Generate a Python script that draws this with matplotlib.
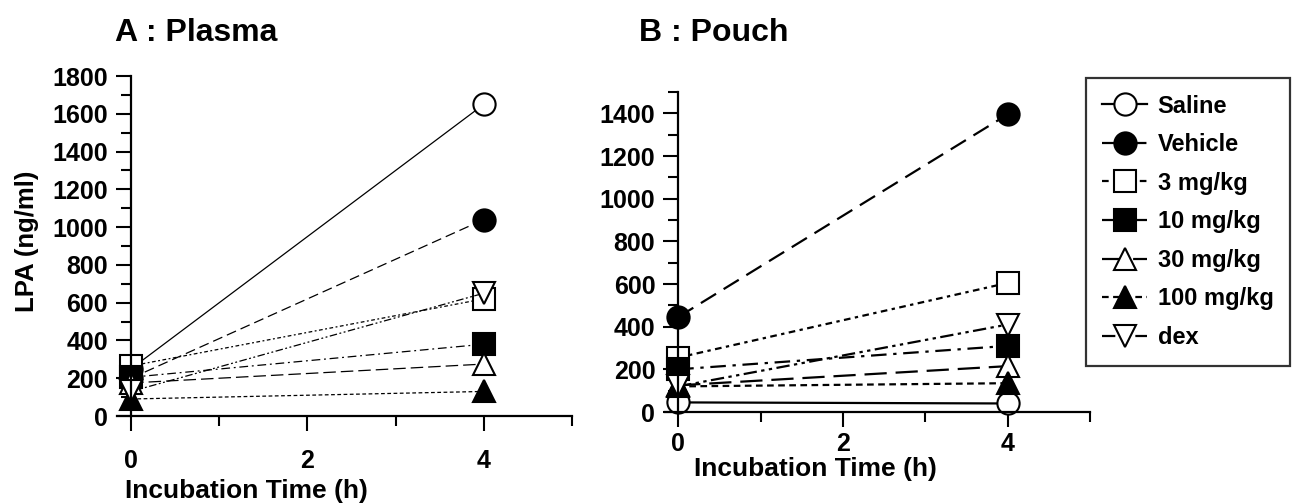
import numpy as np
import matplotlib
matplotlib.use("Agg")
import matplotlib.pyplot as plt
from matplotlib.ticker import MultipleLocator

plt.rcParams['font.family'] = ['Liberation Sans', 'DejaVu Sans']
plt.rcParams['font.weight'] = 'bold'

times = [0, 4]
groups = ["Saline", "Vehicle", "3 mg/kg", "10 mg/kg", "30 mg/kg", "100 mg/kg", "dex"]

# LPA (ng/ml) at 0 h and 4 h
plasma = {
    "Saline":    [250, 1650],
    "Vehicle":   [200, 1040],
    "3 mg/kg":   [265, 620],
    "10 mg/kg":  [205, 380],
    "30 mg/kg":  [175, 275],
    "100 mg/kg": [90, 130],
    "dex":       [130, 650],
}
pouch = {
    "Saline":    [45, 40],
    "Vehicle":   [445, 1395],
    "3 mg/kg":   [255, 605],
    "10 mg/kg":  [200, 310],
    "30 mg/kg":  [125, 215],
    "100 mg/kg": [120, 135],
    "dex":       [120, 410],
}

markers = {"Saline": "o", "Vehicle": "o", "3 mg/kg": "s", "10 mg/kg": "s",
           "30 mg/kg": "^", "100 mg/kg": "^", "dex": "v"}
filled = {"Saline": False, "Vehicle": True, "3 mg/kg": False, "10 mg/kg": True,
          "30 mg/kg": False, "100 mg/kg": True, "dex": False}
dashes = {"Saline": None, "Vehicle": (8, 4), "3 mg/kg": (3, 2, 1.5, 2),
          "10 mg/kg": (7, 3, 1.5, 3), "30 mg/kg": (10, 4), "100 mg/kg": (3, 2),
          "dex": (6, 2, 1.5, 2, 1.5, 2)}

W, H = 1292, 504
fig = plt.figure(figsize=(W / 100, H / 100), dpi=100)


def px_axes(left, right, top, bottom):
    return fig.add_axes([left / W, 1 - bottom / H, (right - left) / W, (bottom - top) / H])


ax1 = px_axes(117, 572, 76, 416)
ax2 = px_axes(665, 1090, 92, 412)


def draw(ax, data, lw, ms):
    handles = []
    for g in groups:
        ls = '-' if dashes[g] is None else (0, dashes[g])
        h, = ax.plot(times, data[g], color='black', lw=lw, linestyle=ls,
                     marker=markers[g], ms=ms, mew=1.5, mec='black',
                     mfc='black' if filled[g] else 'white', clip_on=False)
        handles.append(h)
    return handles


draw(ax1, plasma, 0.9, 16)
handles = draw(ax2, pouch, 1.6, 16)

for ax, ymax, major_top in [(ax1, 1800, 1800), (ax2, 1500, 1400)]:
    ax.set_xlim(-0.16, 5)
    ax.set_ylim(0, ymax)
    ax.spines['top'].set_visible(False)
    ax.spines['right'].set_visible(False)
    ax.spines['left'].set_position(('data', 0))
    ax.spines['left'].set_linewidth(1.6)
    ax.spines['bottom'].set_linewidth(1.6)
    ax.set_xticks([0, 2, 4])
    ax.xaxis.set_minor_locator(MultipleLocator(1))
    ax.set_yticks(np.arange(0, major_top + 1, 200))
    ax.yaxis.set_minor_locator(MultipleLocator(100))
    ax.tick_params(which='major', length=10.5, width=1.5, labelsize=18)
    ax.tick_params(which='minor', length=7, width=1.5)
    ax.tick_params(axis='y', pad=6)

ax1.tick_params(axis='x', pad=13)
ax2.tick_params(axis='x', pad=4)

ax1.text(0.284, -0.222, "Incubation Time (h)", transform=ax1.transAxes,
         ha='center', va='center', fontsize=19, fontweight='bold')
ax2.text(0.353, -0.178, "Incubation Time (h)", transform=ax2.transAxes,
         ha='center', va='center', fontsize=19, fontweight='bold')
fig.text(27 / W, 1 - 241 / H, "LPA (ng/ml)", rotation=90, ha='center', va='center',
         fontsize=18.5, fontweight='bold')

fig.text(196 / W, 1 - 33 / H, "A : Plasma", ha='center', va='center',
         fontsize=23, fontweight='bold')
fig.text(714 / W, 1 - 33 / H, "B : Pouch", ha='center', va='center',
         fontsize=23, fontweight='bold')

leg = fig.legend(handles, groups, loc='upper right',
                 bbox_to_anchor=(1290 / W, 1 - 78 / H), frameon=True, fancybox=False,
                 edgecolor='black', fontsize=17, handlelength=1.9, handletextpad=0.45,
                 labelspacing=0.66, borderpad=0.7, borderaxespad=0)
leg.get_frame().set_linewidth(1.6)

fig.savefig("out.png", dpi=100)
